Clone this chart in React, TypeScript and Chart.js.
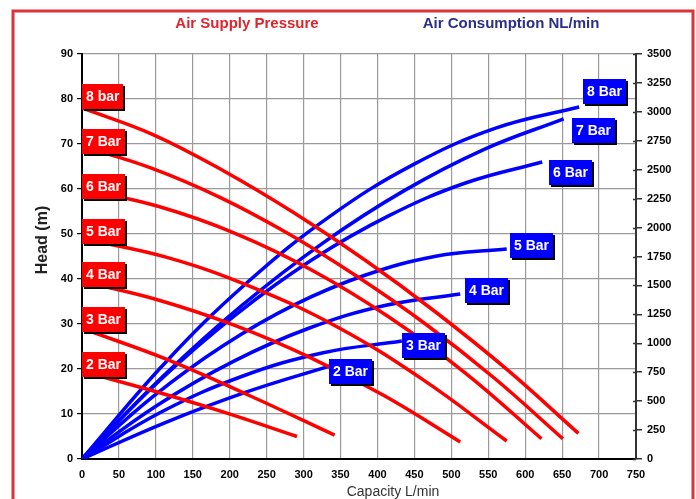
import React, { useEffect, useRef } from "react";
import { Chart, registerables } from "chart.js";
Chart.register(...registerables);

const FONT = "'Liberation Sans', Arial, Helvetica, sans-serif";

// ---- Head curves (m) vs capacity (L/min), one per air supply pressure ----
const red8Cap = [0, 96, 192, 288, 384, 480, 576, 672];
const red8Head = [78, 72.1, 64, 54.6, 44.1, 32.5, 19.8, 5.7];
const red7Cap = [0, 93, 186, 279, 372, 465, 558, 651];
const red7Head = [69.5, 64.7, 58.2, 50.1, 40.6, 30, 18, 4.5];
const red6Cap = [0, 104, 208, 312, 415, 519, 622];
const red6Head = [60, 56.1, 50.1, 41.9, 31.6, 19.1, 4.5];
const red5Cap = [0, 115, 230, 345, 460, 575];
const red5Head = [49, 44.8, 38.2, 29.4, 17.8, 4];
const red4Cap = [0, 102, 205, 307, 410, 512];
const red4Head = [39.5, 35.4, 29.8, 22.7, 14, 3.8];
const red3Cap = [0, 114, 228, 342];
const red3Head = [29, 22.2, 14, 5.3];
const red2Cap = [0, 97, 194, 291];
const red2Head = [19.5, 15.1, 10.3, 5];

// ---- Air consumption curves (NL/min) vs capacity (L/min) ----
const blue8Cap = [0, 112, 224, 336, 449, 561, 673];
const blue8Air = [0, 828, 1527, 2099, 2546, 2861, 3042];
const blue7Cap = [0, 109, 217, 326, 435, 543, 652];
const blue7Air = [0, 711, 1330, 1866, 2315, 2672, 2940];
const blue6Cap = [0, 104, 208, 312, 415, 519, 623];
const blue6Air = [0, 672, 1246, 1724, 2101, 2385, 2567];
const blue5Cap = [0, 96, 192, 288, 383, 479, 575];
const blue5Air = [0, 539, 983, 1334, 1588, 1752, 1815];
const blue4Cap = [0, 102, 205, 307, 410, 512];
const blue4Air = [0, 465, 844, 1130, 1327, 1426];
const blue3Cap = [0, 108, 217, 325, 433];
const blue3Air = [0, 408, 715, 916, 1020];
const blue2Cap = [0, 112, 224, 336];
const blue2Air = [0, 313, 582, 805];

// ---- Tags ----
const redTagText = ["8 bar", "7 Bar", "6 Bar", "5 Bar", "4 Bar", "3 Bar", "2 Bar"];
const redTagHead = [80.5, 70.5, 60.5, 50.5, 41, 31, 21];
const blueTagText = ["8 Bar", "7 Bar", "6 Bar", "5 Bar", "4 Bar", "3 Bar", "2 Bar"];
const blueTagCap = [707, 692, 661, 609, 547, 462, 364];
const blueTagAir = [3172, 2843, 2480, 1849, 1452, 977, 760];

const titleLeft = "Air Supply Pressure";
const titleRight = "Air Consumption NL/min";
const xTitle = "Capacity L/min";
const yTitle = "Head (m)";

const redSeries = [
  [red8Cap, red8Head],
  [red7Cap, red7Head],
  [red6Cap, red6Head],
  [red5Cap, red5Head],
  [red4Cap, red4Head],
  [red3Cap, red3Head],
  [red2Cap, red2Head],
];
const blueSeries = [
  [blue8Cap, blue8Air],
  [blue7Cap, blue7Air],
  [blue6Cap, blue6Air],
  [blue5Cap, blue5Air],
  [blue4Cap, blue4Air],
  [blue3Cap, blue3Air],
  [blue2Cap, blue2Air],
];

const zip = (xs: number[], ys: number[]) => xs.map((x, i) => ({ x, y: ys[i] }));

function drawTag(ctx: CanvasRenderingContext2D, text: string, left: number, cy: number, fill: string) {
  ctx.font = `bold 14px ${FONT}`;
  const w = Math.round(ctx.measureText(text).width + 8);
  const h = 25;
  const top = Math.round(cy - h / 2);
  ctx.fillStyle = "#000";
  ctx.fillRect(left + 2, top + 2, w, h);
  ctx.fillStyle = fill;
  ctx.fillRect(left, top, w, h);
  ctx.fillStyle = "#fff";
  ctx.textAlign = "left";
  ctx.textBaseline = "middle";
  ctx.fillText(text, left + 4, top + h / 2 + 1);
}

const decorPlugin = {
  id: "decor",
  beforeDraw(chart: any) {
    const ctx = chart.ctx;
    ctx.save();
    ctx.fillStyle = "#fff";
    ctx.fillRect(0, 0, chart.width, chart.height);
    ctx.restore();
  },
  afterDatasetsDraw(chart: any) {
    const ctx = chart.ctx as CanvasRenderingContext2D;
    const xs = chart.scales.x;
    const ys = chart.scales.y;
    const y2 = chart.scales.y2;
    ctx.save();
    redTagText.forEach((t, i) => {
      drawTag(ctx, t, Math.round(xs.getPixelForValue(0)), ys.getPixelForValue(redTagHead[i]), "#ff0000");
    });
    blueTagText.forEach((t, i) => {
      ctx.font = `bold 14px ${FONT}`;
      const w = ctx.measureText(t).width + 8;
      const cx = xs.getPixelForValue(blueTagCap[i]);
      drawTag(ctx, t, Math.round(cx - w / 2), y2.getPixelForValue(blueTagAir[i]), "#0000ff");
    });
    ctx.restore();
  },
  afterDraw(chart: any) {
    const ctx = chart.ctx as CanvasRenderingContext2D;
    const area = chart.chartArea;
    const y2 = chart.scales.y2;
    ctx.save();
    // inner tick stubs on the right axis
    ctx.strokeStyle = "#333";
    ctx.lineWidth = 1.5;
    y2.ticks.forEach((tk: any) => {
      const py = Math.round(y2.getPixelForValue(tk.value)) + 0.5;
      ctx.beginPath();
      ctx.moveTo(area.right - 3, py);
      ctx.lineTo(area.right, py);
      ctx.stroke();
    });
    // titles
    ctx.textBaseline = "middle";
    ctx.textAlign = "center";
    ctx.font = `bold 15px ${FONT}`;
    ctx.fillStyle = "#e0242c";
    ctx.fillText(titleLeft, 247, 24);
    ctx.fillStyle = "#2b2f86";
    ctx.fillText(titleRight, 511, 24);
    // axis titles
    ctx.fillStyle = "#333";
    ctx.font = `14px ${FONT}`;
    ctx.fillText(xTitle, 393, 492);
    ctx.save();
    ctx.translate(43, 240);
    ctx.rotate(-Math.PI / 2);
    ctx.fillStyle = "#222";
    ctx.font = `bold 16px ${FONT}`;
    ctx.fillText(yTitle, 0, 0);
    ctx.restore();
    // outer frame
    ctx.strokeStyle = "#d8343a";
    ctx.lineWidth = 3;
    ctx.strokeRect(13, 11, 680, 520);
    ctx.restore();
  },
};

export default function App() {
  const ref = useRef<HTMLCanvasElement | null>(null);
  useEffect(() => {
    document.body.style.margin = "0";
    const canvas = ref.current;
    if (!canvas) return;
    const tickFont = { family: FONT, size: 11, weight: "bold" as const };
    const plain = (v: any) => String(v);
    const datasets: any[] = [];
    redSeries.forEach(([c, h]) => {
      datasets.push({
        data: zip(c, h),
        yAxisID: "y",
        borderColor: "#ff0000",
        borderWidth: 3.5,
        pointRadius: 0,
        fill: false,
        tension: 0.4,
      });
    });
    blueSeries.forEach(([c, a]) => {
      datasets.push({
        data: zip(c, a),
        yAxisID: "y2",
        borderColor: "#0000ff",
        borderWidth: 3.5,
        pointRadius: 0,
        fill: false,
        tension: 0.4,
      });
    });
    const chart = new Chart(canvas, {
      type: "line",
      data: { datasets },
      options: {
        responsive: false,
        animation: false,
        parsing: false as any,
        layout: { padding: { top: 54, left: 0, right: 0, bottom: 0 } },
        plugins: { legend: { display: false }, tooltip: { enabled: false } },
        scales: {
          x: {
            type: "linear",
            min: 0,
            max: 750,
            position: "bottom",
            ticks: { stepSize: 50, font: tickFont, color: "#000", padding: 9, maxRotation: 0, autoSkip: false, callback: plain },
            grid: { color: "#9a9a9a", lineWidth: 1.2, drawTicks: false },
            border: { color: "#000", width: 2 },
            afterFit: (s: any) => {
              s.height = 40;
            },
          },
          y: {
            type: "linear",
            min: 0,
            max: 90,
            position: "left",
            ticks: { stepSize: 10, font: tickFont, color: "#000", padding: 4, callback: plain },
            grid: { color: "#9a9a9a", lineWidth: 1.2, tickLength: 5, tickColor: "#000" },
            border: { color: "#000", width: 2 },
            afterFit: (s: any) => {
              s.width = 82;
            },
          },
          y2: {
            type: "linear",
            min: 0,
            max: 3500,
            position: "right",
            ticks: { stepSize: 250, font: tickFont, color: "#000", padding: 5, callback: plain },
            grid: { drawOnChartArea: false, tickLength: 6, tickColor: "#333", lineWidth: 1.5 },
            border: { color: "#333", width: 2 },
            afterFit: (s: any) => {
              s.width = 60;
            },
          },
        },
      },
      plugins: [decorPlugin],
    });
    return () => chart.destroy();
  }, []);
  return (
    <div style={{ position: "absolute", left: 0, top: 0, width: 696, height: 499 }}>
      <canvas ref={ref} width={696} height={499} style={{ display: "block", width: 696, height: 499 }} />
    </div>
  );
}
